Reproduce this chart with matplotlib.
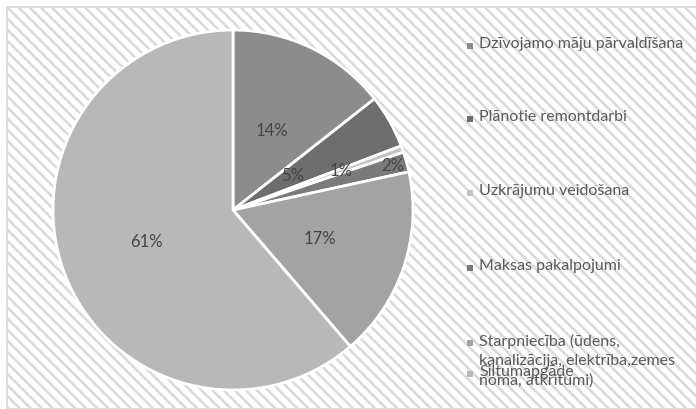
import matplotlib.pyplot as plt
from matplotlib.patches import Rectangle
import numpy as np

# shares (labels show the rounded value)
categories = ['Dzīvojamo māju pārvaldīšana', 'Plānotie remontdarbi', 'Uzkrājumu veidošana',
              'Maksas pakalpojumi',
              'Starpniecība (ūdens,\nkanalizācija, elektrība,zemes\nnoma, atkritumi)',
              'Siltumapgāde']
shares = [14.4, 4.8, 0.6, 1.8, 17.1, 61.3]

colors = ['#8c8c8c', '#6e6e6e', '#c4c4c4', '#7a7a7a', '#a3a3a3', '#b8b8b8']
label_dist = [0.49, 0.38, 0.64, 0.92, 0.51, 0.51]

W, H = 696, 409
plt.rcParams['font.family'] = ['Lato', 'DejaVu Sans']
plt.rcParams['hatch.color'] = '#eeeeee'
plt.rcParams['hatch.linewidth'] = 1.8

fig = plt.figure(figsize=(W / 100, H / 100), dpi=100)

# striped chart area background
bg = Rectangle((7 / W, 0), 1, 1 - 7 / H, transform=fig.transFigure,
               facecolor='white', edgecolor='#d9d9d9', linewidth=1.2, hatch='\\\\\\', zorder=-5)
fig.patches.append(bg)

# pie: centre (233, 210), radius 180 px
r = 180
ax = fig.add_axes([(233 - r) / W, (H - 210 - r) / H, 2 * r / W, 2 * r / H], zorder=2)
ax.set_facecolor('none')
wedges, _ = ax.pie(shares, colors=colors, startangle=90, counterclock=False,
                   wedgeprops=dict(edgecolor='white', linewidth=2))
ax.set_xlim(-1, 1)
ax.set_ylim(-1, 1)
ax.set_aspect('equal')
ax.axis('off')

for w, s, d in zip(wedges, shares, label_dist):
    mid = np.deg2rad((w.theta1 + w.theta2) / 2)
    ax.text(d * np.cos(mid), d * np.sin(mid), '%.0f%%' % s, ha='center', va='center',
            fontsize=12, color='#454545')

# legend drawn by hand (entries overlap in the original)
legend_y = [46, 119, 193, 268, 343, 374]
for name, c, y in zip(categories, colors, legend_y):
    fig.patches.append(Rectangle((467 / W, (H - y - 3) / H), 6 / W, 6 / H,
                                 transform=fig.transFigure, facecolor=c, edgecolor='none',
                                 zorder=3))
    fig.text(479 / W, (H - y + 9) / H, name, ha='left', va='top', fontsize=11.5,
             color='#5a5a5a', linespacing=1.45, zorder=3)

plt.savefig('out.png', dpi=100)
